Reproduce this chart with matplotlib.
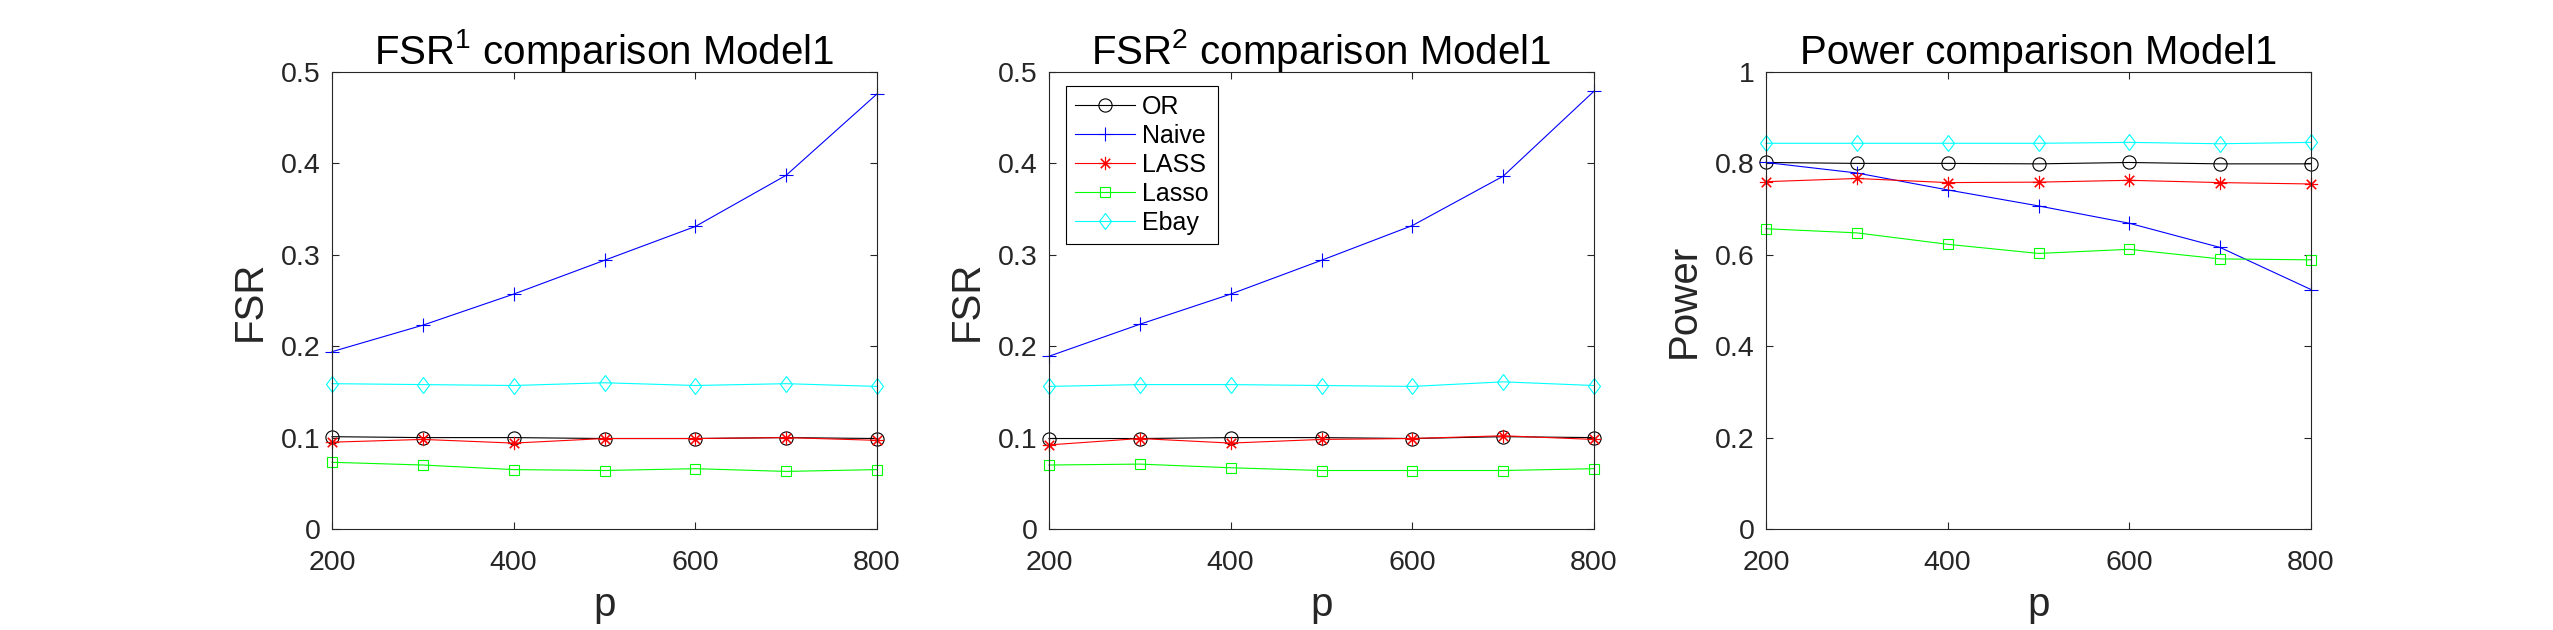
import matplotlib
matplotlib.use("Agg")
from matplotlib import pyplot as plt
from matplotlib.markers import MarkerStyle
from matplotlib.transforms import Affine2D
from matplotlib.ticker import FuncFormatter

plt.rcParams['font.family'] = ['Liberation Sans', 'DejaVu Sans']
plt.rcParams['mathtext.fontset'] = 'custom'
plt.rcParams['mathtext.rm'] = 'Liberation Sans'
plt.rcParams['mathtext.it'] = 'Liberation Sans:italic'

p = [200, 300, 400, 500, 600, 700, 800]
methods = ['OR', 'Naive', 'LASS', 'Lasso', 'Ebay']

# FSR^1
fsr1_or = [0.101, 0.100, 0.100, 0.099, 0.099, 0.100, 0.099]
fsr1_naive = [0.194, 0.223, 0.257, 0.294, 0.331, 0.387, 0.476]
fsr1_lass = [0.095, 0.098, 0.094, 0.099, 0.099, 0.100, 0.097]
fsr1_lasso = [0.073, 0.070, 0.065, 0.064, 0.066, 0.063, 0.065]
fsr1_ebay = [0.159, 0.158, 0.157, 0.160, 0.157, 0.159, 0.156]

# FSR^2
fsr2_or = [0.099, 0.099, 0.100, 0.100, 0.099, 0.101, 0.100]
fsr2_naive = [0.189, 0.224, 0.257, 0.294, 0.332, 0.386, 0.479]
fsr2_lass = [0.092, 0.099, 0.094, 0.098, 0.099, 0.102, 0.098]
fsr2_lasso = [0.070, 0.071, 0.067, 0.064, 0.064, 0.064, 0.066]
fsr2_ebay = [0.156, 0.158, 0.158, 0.157, 0.156, 0.161, 0.157]

# Power
pow_or = [0.802, 0.800, 0.800, 0.799, 0.802, 0.799, 0.799]
pow_naive = [0.802, 0.779, 0.742, 0.707, 0.669, 0.616, 0.524]
pow_lass = [0.760, 0.767, 0.758, 0.759, 0.763, 0.758, 0.755]
pow_lasso = [0.657, 0.648, 0.623, 0.603, 0.612, 0.591, 0.589]
pow_ebay = [0.844, 0.844, 0.844, 0.844, 0.846, 0.843, 0.846]

colors = ['k', 'b', 'r', (0, 1, 0), (0, 1, 1)]
diamond = MarkerStyle('D', transform=Affine2D().scale(0.75, 1.0))
asterisk = (8, 2, 0)
markers = ['o', '+', asterisk, 's', diamond]
msizes = [9.5, 9.5, 9.5, 6.5, 8.5]

panels = [
    ('FSR$^1$ comparison Model1', 'FSR', [fsr1_or, fsr1_naive, fsr1_lass, fsr1_lasso, fsr1_ebay], 0.5, 0.1),
    ('FSR$^2$ comparison Model1', 'FSR', [fsr2_or, fsr2_naive, fsr2_lass, fsr2_lasso, fsr2_ebay], 0.5, 0.1),
    ('Power comparison Model1', 'Power', [pow_or, pow_naive, pow_lass, pow_lasso, pow_ebay], 1.0, 0.2),
]

fig = plt.figure(figsize=(25.53, 6.3), dpi=100)
lefts = [332, 1049, 1766]
gray = '#262626'

for i, (title, ylab, series, ymax, ystep) in enumerate(panels):
    ax = fig.add_axes([lefts[i] / 2553, 101 / 630, 545 / 2553, 457 / 630])
    for name, ys, c, m, ms in zip(methods, series, colors, markers, msizes):
        ax.plot(p, ys, color=c, marker=m, markersize=ms, markerfacecolor='none',
                markeredgecolor=c, markeredgewidth=0.8, linewidth=0.8, label=name,
                clip_on=False)
    ax.set_xlim(200, 800)
    ax.set_ylim(0, ymax)
    ax.set_xticks([200, 400, 600, 800])
    nt = int(round(ymax / ystep))
    ax.set_yticks([k * ystep for k in range(nt + 1)])
    ax.yaxis.set_major_formatter(FuncFormatter(lambda v, pos: '%g' % round(v, 3)))
    ax.tick_params(direction='in', top=True, right=True, length=5, width=0.8,
                   labelsize=20.5, colors=gray)
    ax.tick_params(axis='x', pad=15)
    ax.tick_params(axis='y', pad=8)
    for s in ax.spines.values():
        s.set_color(gray)
        s.set_linewidth(0.8)
    ax.set_title(title, fontsize=29, color='k', pad=6)
    ax.set_xlabel('p', fontsize=29, color=gray, labelpad=7)
    ax.set_ylabel(ylab, fontsize=29, color=gray, labelpad=9)
    if i == 1:
        leg = ax.legend(loc='upper left', bbox_to_anchor=(0.031, 0.969), borderaxespad=0,
                        fontsize=18, fancybox=False, framealpha=1, edgecolor='k',
                        handlelength=2.4, handletextpad=0.3, labelspacing=0.2,
                        borderpad=0.35)
        leg.get_frame().set_linewidth(0.8)

fig.savefig('out.png', dpi=100)
